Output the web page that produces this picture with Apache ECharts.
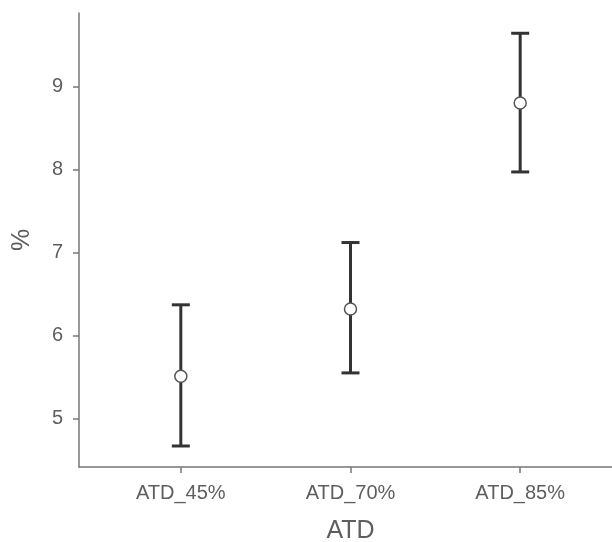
<!DOCTYPE html>
<html>
<head>
<meta charset="utf-8">
<script src="https://cdn.jsdelivr.net/npm/echarts@6/dist/echarts.min.js"></script>
<style>
  html, body { margin: 0; padding: 0; background: #fff; }
  #main { width: 612px; height: 542px; }
</style>
</head>
<body>
<div id="main"></div>
<script>
const categories = ['ATD_45%', 'ATD_70%', 'ATD_85%'];
const means = [5.51, 6.32, 8.80];
const lower = [4.67, 5.55, 7.97];
const upper = [6.37, 7.12, 9.64];
const yTicks = [5, 6, 7, 8, 9];

const xPos = categories.map((c, i) => i + 1);

const chart = echarts.init(document.getElementById('main'));

const labelColor = '#5e5e5e';
const axisColor = '#777';

const option = {
  animation: false,
  grid: { left: 79, top: 13, bottom: 75, right: -10, outerBoundsMode: 'none', containLabel: false },
  xAxis: {
    type: 'value',
    min: 0.4,
    max: 3.6,
    name: 'ATD',
    nameLocation: 'middle',
    nameGap: 52,
    nameTextStyle: { fontSize: 25, color: labelColor, fontFamily: 'Liberation Sans' },
    axisLine: { lineStyle: { color: axisColor, width: 1.5 } },
    axisTick: { customValues: xPos, length: 6, lineStyle: { color: axisColor, width: 1.5 } },
    axisLabel: {
      customValues: xPos,
      formatter: v => categories[Math.round(v) - 1],
      fontSize: 20, color: labelColor, fontFamily: 'Liberation Sans', margin: 16
    },
    splitLine: { show: false }
  },
  yAxis: {
    type: 'value',
    min: 4.417,
    max: 9.884,
    name: '%',
    nameLocation: 'middle',
    nameGap: 44,
    nameTextStyle: { fontSize: 25, color: labelColor, fontFamily: 'Liberation Sans' },
    axisLine: { show: true, lineStyle: { color: axisColor, width: 1.5 } },
    axisTick: { show: true, customValues: yTicks, length: 6, lineStyle: { color: axisColor, width: 1.5 } },
    axisLabel: {
      customValues: yTicks,
      fontSize: 20, color: labelColor, fontFamily: 'Liberation Sans', margin: 16
    },
    splitLine: { show: false }
  },
  series: [
    {
      type: 'custom',
      data: xPos.map((x, i) => [x, lower[i], upper[i]]),
      renderItem: (params, api) => {
        const x = api.value(0);
        const lo = api.coord([x, api.value(1)]);
        const hi = api.coord([x, api.value(2)]);
        const hw = 9;
        const style = { stroke: '#333', lineWidth: 3 };
        return {
          type: 'group',
          children: [
            { type: 'line', shape: { x1: lo[0], y1: lo[1], x2: hi[0], y2: hi[1] }, style },
            { type: 'line', shape: { x1: lo[0] - hw, y1: lo[1], x2: lo[0] + hw, y2: lo[1] }, style },
            { type: 'line', shape: { x1: hi[0] - hw, y1: hi[1], x2: hi[0] + hw, y2: hi[1] }, style }
          ]
        };
      },
      z: 2
    },
    {
      type: 'scatter',
      data: xPos.map((x, i) => [x, means[i]]),
      symbol: 'circle',
      symbolSize: 12,
      itemStyle: { color: '#fff', borderColor: '#555', borderWidth: 1.5, opacity: 1 },
      z: 3
    }
  ]
};

chart.setOption(option);
</script>
</body>
</html>
